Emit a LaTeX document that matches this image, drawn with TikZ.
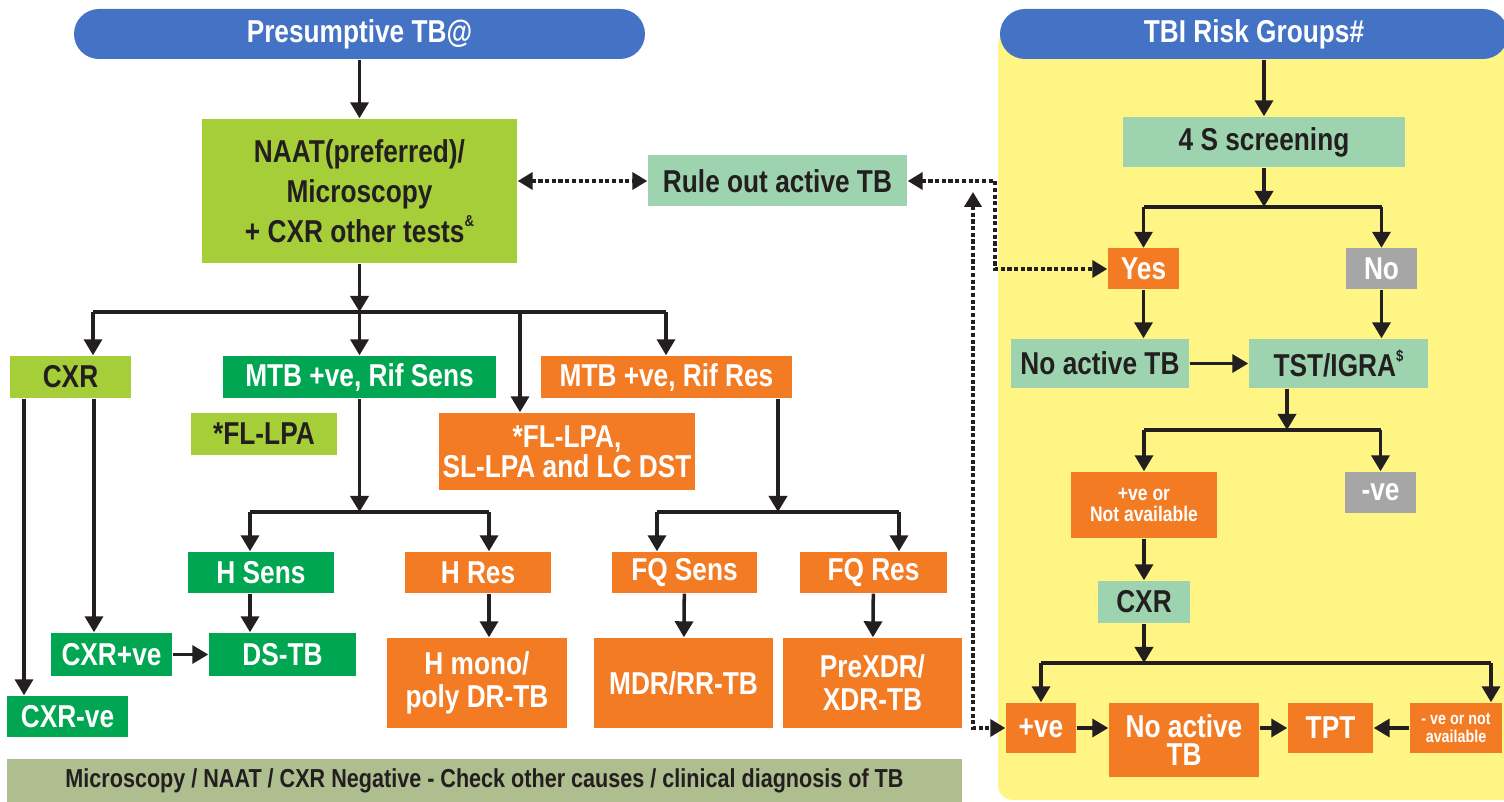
\documentclass[tikz,border=0pt]{standalone}
\usepackage{fontspec}
\setmainfont{Liberation Sans}[FakeStretch=0.83]
\usetikzlibrary{positioning,arrows.meta}
\definecolor{tbBlue}{RGB}{68,114,196}
\definecolor{tbLime}{RGB}{166,206,57}
\definecolor{tbGreen}{RGB}{0,166,81}
\definecolor{tbOrange}{RGB}{243,123,36}
\definecolor{tbMint}{RGB}{157,212,175}
\definecolor{tbGray}{RGB}{166,166,166}
\definecolor{tbYellow}{RGB}{255,245,133}
\definecolor{tbOlive}{RGB}{175,190,143}
\definecolor{tbInk}{RGB}{35,31,32}
\newcommand{\supmark}[1]{\raisebox{0.95ex}{\fontsize{4.5}{4.5}\selectfont #1}}

\begin{document}
\begin{tikzpicture}[x=0.1mm, y=-0.1mm,
  font=\bfseries\fontsize{9}{10}\selectfont,
  box/.style 2 args={minimum width=#1*0.1mm, minimum height=#2*0.1mm, inner sep=1pt, align=center},
  lime/.style={fill=tbLime, text=tbInk},
  grn/.style={fill=tbGreen, text=white},
  org/.style={fill=tbOrange, text=white},
  mint/.style={fill=tbMint, text=tbInk},
  gry/.style={fill=tbGray, text=white},
  hdr/.style={fill=tbBlue, text=white, rounded corners=2.5mm},
  wire/.style={line width=1pt, draw=tbInk},
  arr/.style={wire, -{Triangle[length=1.6mm, width=1.8mm]}},
  dots/.style={line width=1.2pt, draw=tbInk, dash pattern=on 1.2pt off 0.7pt,
    {Triangle[length=1.5mm, width=1.7mm]}-{Triangle[length=1.5mm, width=1.7mm]}},
]
\useasboundingbox (0,0) rectangle (1504,802);
% TBI panel
\fill[tbYellow, rounded corners=1.5mm] (998,30) rectangle (1540,800);
% headers
\node[hdr, box={571}{50}] (hdrL) at (359.5,34) {Presumptive TB@};
\node[hdr, box={508}{50}] (hdrR) at (1254,34) {TBI Risk Groups\#};
% presumptive TB side
\node[lime, box={315}{144}, font=\bfseries\fontsize{9}{11.4}\selectfont] (naat) at (359.5,191)
  {NAAT(preferred)/\\Microscopy\\+ CXR other tests\supmark{\&}};
\node[mint, box={259}{51}] (rule) at (777.5,181) {Rule out active TB};
\node[lime, box={121}{42}] (cxrL) at (70.5,377) {CXR};
\node[grn, box={273}{42}] (sens) at (359.5,377) {MTB +ve, Rif Sens};
\node[lime, box={146}{42}] (flpaG) at (264,434) {*FL-LPA};
\node[org, box={251}{42}] (res) at (666.5,377) {MTB +ve, Rif Res};
\node[org, box={256}{77}, font=\bfseries\fontsize{9}{8.6}\selectfont] (flpaO) at (567,451.5)
  {*FL-LPA,\\SL-LPA and LC DST};
\node[grn, box={146}{41}] (hsens) at (261,572.5) {H Sens};
\node[org, box={146}{41}] (hres) at (478,572.5) {H Res};
\node[org, box={145}{41}] (fqsens) at (684.5,572.5) {FQ Sens};
\node[org, box={147}{41}] (fqres) at (873.5,572.5) {FQ Res};
\node[grn, box={121}{43}] (cxrpos) at (111.5,654.5) {CXR+ve};
\node[grn, box={147}{43}] (dstb) at (282.5,654.5) {DS-TB};
\node[grn, box={121}{41}] (cxrneg) at (67.5,716.5) {CXR-ve};
\node[org, box={180}{90}, font=\bfseries\fontsize{9}{9.4}\selectfont] (hmono) at (477,683)
  {H mono/\\poly DR-TB};
\node[org, box={179}{90}] (mdr) at (683.5,683) {MDR/RR-TB};
\node[org, box={179}{90}, font=\bfseries\fontsize{9}{9.4}\selectfont] (prexdr) at (872.5,683)
  {PreXDR/\\XDR-TB};
\node[fill=tbOlive, text=tbInk, box={955}{43}, font=\bfseries\fontsize{7.4}{8}\selectfont] (banner) at (484.5,780.5)
  {Microscopy / NAAT / CXR Negative - Check other causes / clinical diagnosis of TB};
% TBI side
\node[mint, box={282}{50}] (four) at (1264,142) {4 S screening};
\node[org, box={71}{41}] (yes) at (1143.5,269) {Yes};
\node[gry, box={71}{41}] (no) at (1381.5,269) {No};
\node[mint, box={178}{49}] (noactR) at (1100,363.5) {No active TB};
\node[mint, box={179}{49}] (tst) at (1338.5,363.5) {TST/IGRA\supmark{\$}};
\node[org, box={146}{66}, font=\bfseries\fontsize{6}{6.1}\selectfont] (posna) at (1144,505)
  {+ve or\\Not available};
\node[gry, box={71}{41}] (neg) at (1380.5,492.5) {-ve};
\node[mint, box={92}{42}] (cxrR) at (1144,602) {CXR};
\node[org, box={70}{50}] (pos) at (1041,728) {+ve};
\node[org, box={150}{74}, font=\bfseries\fontsize{9}{7.8}\selectfont] (noactO) at (1184,740)
  {No active\\TB};
\node[org, box={85}{50}] (tpt) at (1330.5,728) {TPT};
\node[org, box={92}{50}, font=\bfseries\fontsize{4.9}{5}\selectfont] (negna) at (1456,728)
  {- ve or not\\available};
% branch points
\coordinate (bA) at (359.5,312);
\coordinate (kL) at (93,0);
\coordinate (kF) at (520,0);
\coordinate (kR) at (666,0);
\coordinate (kC1) at (24,0);
\coordinate (kC2) at (94,0);
\coordinate (bS) at (359.5,512);
\coordinate (kS) at (250,0);
\coordinate (kH) at (489,0);
\coordinate (bM) at (778,512);
\coordinate (kQ1) at (657,0);
\coordinate (kQ2) at (899,0);
\coordinate (bQ) at (1264,207);
\coordinate (bT) at (1287,430);
\coordinate (bC) at (1144,663);
\coordinate (kN) at (1491,0);
\coordinate (kY) at (995,0);
\coordinate (kP) at (973,192);
% presumptive TB tree
\draw[arr] (hdrL) -- (naat);
\draw[arr] (naat) -- (bA);
\draw[wire] (bA -| kL) -- (bA -| kR);
\draw[arr] (bA -| kL) -- (cxrL.north -| kL);
\draw[arr] (bA) -- (sens);
\draw[arr] (bA -| kF) -- (flpaO.north -| kF);
\draw[arr] (bA -| kR) -- (res.north -| kR);
\draw[arr] (cxrL.south -| kC1) -- (cxrneg.north -| kC1);
\draw[arr] (cxrL.south -| kC2) -- (cxrpos.north -| kC2);
\draw[arr] (cxrpos) -- (dstb);
\draw[arr] (sens) -- (bS);
\draw[wire] (bS -| kS) -- (bS -| kH);
\draw[arr] (bS -| kS) -- (hsens.north -| kS);
\draw[arr] (bS -| kH) -- (hres.north -| kH);
\draw[arr] (hsens.south -| kS) -- (dstb.north -| kS);
\draw[arr] (hres.south -| kH) -- (hmono.north -| kH);
\draw[arr] (res.south -| bM) -- (bM);
\draw[wire] (bM -| kQ1) -- (bM -| kQ2);
\draw[arr] (bM -| kQ1) -- (fqsens.north -| kQ1);
\draw[arr] (bM -| kQ2) -- (fqres.north -| kQ2);
\draw[arr] (fqsens) -- (mdr);
\draw[arr] (fqres) -- (prexdr);
% TBI tree
\draw[arr] (four.north |- hdrR.south) -- (four);
\draw[arr] (four) -- (bQ);
\draw[wire] (bQ -| yes) -- (bQ -| no);
\draw[arr] (bQ -| yes) -- (yes);
\draw[arr] (bQ -| no) -- (no);
\draw[arr] (yes) -- (yes |- noactR.north);
\draw[arr] (no) -- (no |- tst.north);
\draw[arr] (noactR) -- (tst);
\draw[arr] (tst.south -| bT) -- (bT);
\draw[wire] (bT -| posna) -- (bT -| neg);
\draw[arr] (bT -| posna) -- (posna);
\draw[arr] (bT -| neg) -- (neg);
\draw[arr] (posna) -- (cxrR);
\draw[arr] (cxrR) -- (bC);
\draw[wire] (bC -| pos) -- (bC -| kN);
\draw[arr] (bC -| pos) -- (pos);
\draw[arr] (bC -| kN) -- (negna.north -| kN);
\draw[arr] (pos) -- (pos -| noactO.west);
\draw[arr] (noactO.east |- tpt) -- (tpt);
\draw[arr] (negna) -- (tpt);
% rule-out links
\draw[dots] (naat.east |- rule) -- (rule);
\draw[dots] (rule) -- (rule.east -| kY) |- (yes);
\draw[dots] (kP) |- (pos);
\end{tikzpicture}
\end{document}
